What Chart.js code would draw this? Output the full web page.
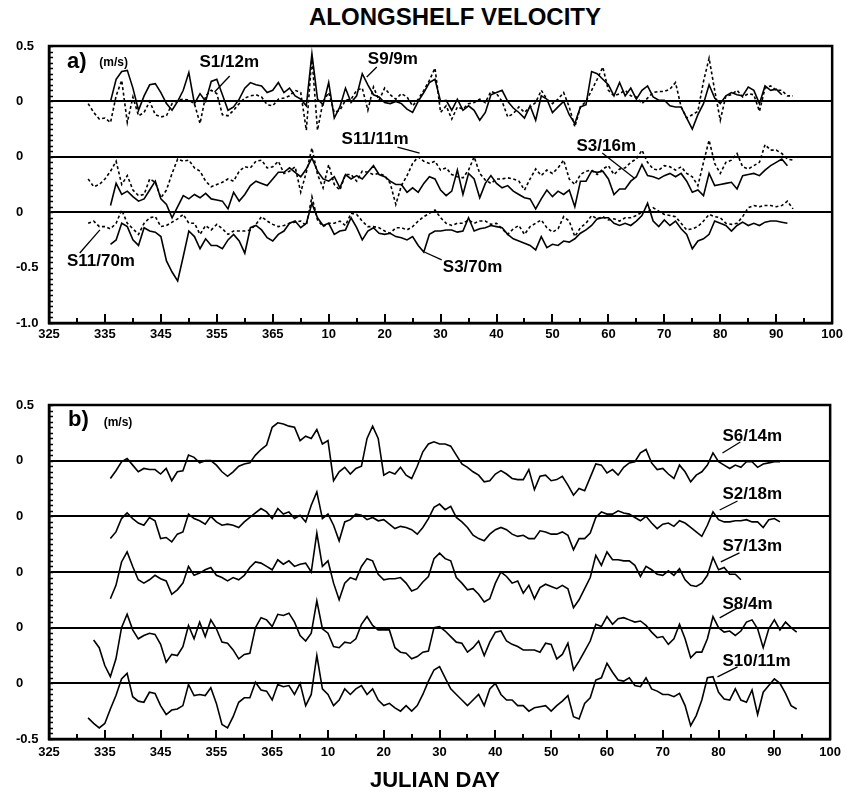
<!DOCTYPE html>
<html>
<head>
<meta charset="utf-8">
<script src="https://cdn.jsdelivr.net/npm/chart.js@4/dist/chart.umd.min.js"></script>
<style>
  html, body { margin: 0; padding: 0; background: #fff; }
  #wrap { position: relative; width: 847px; height: 799px; font-family: "Liberation Sans", Arial, sans-serif; }
  canvas { position: absolute; left: 0; }
  .t { position: absolute; font-weight: bold; line-height: 24px; white-space: nowrap; transform: translateX(-50%); color: #000; }
</style>
</head>
<body>
<div id="wrap">
  <div class="t" style="left:455px; top:5px; font-size:24px;">ALONGSHELF VELOCITY</div>
  <canvas id="ca" width="847" height="360" style="top:0"></canvas>
  <canvas id="cb" width="847" height="439" style="top:360px"></canvas>
  <div class="t" style="left:435px; top:768px; font-size:22px;">JULIAN DAY</div>
</div>
<script>
// Day axis: days of the first year run to 365, then continue as 375 = day 10 of the next year
const DAY_TICKS  = [325, 335, 345, 355, 365, 375, 385, 395, 405, 415, 425, 435, 445, 455, 465];
const DAY_LABELS = ['325', '335', '345', '355', '365', '10', '20', '30', '40', '50', '60', '70', '80', '90', '100'];

// Stacked velocity axes (each record is shifted down by 0.5 m/s)
const A_TICKS  = [0.5, 0, -0.5, -1.0, -1.5, -2.0];
const A_LABELS = ['0.5', '0', '0', '0', '-0.5', '-1.0'];
const B_TICKS  = [0.5, 0, -0.5, -1.0, -1.5, -2.0, -2.5];
const B_LABELS = ['0.5', '0', '0', '0', '0', '0', '-0.5'];

// Panel a: daily alongshelf velocity (m/s), first value at the *_START day
const S1_12M_START = 336;
const S1_12M = [0.0, 0.2, 0.27, 0.28, 0.12, -0.08, 0.05, 0.15, 0.16, 0.08, -0.02, -0.08, 0.0, 0.1, 0.26, -0.02, 0.07, 0.0, 0.18, 0.2, 0.06,
  -0.08, -0.05, 0.02, 0.12, 0.17, 0.15, 0.14, 0.08, 0.1, 0.17, 0.08, 0.12, 0.05, 0.02, -0.04, 0.43, 0.02, -0.03, 0.17, -0.15, -0.05, 0.12, -0.01, 0.05, 0.25, 0.15, 0.06, 0.04, -0.01, -0.02, 0.0, -0.02, -0.07, -0.1, 0.0, 0.08, 0.17, 0.2,
  0.0, 0.01, -0.08, 0.02, -0.08, -0.04, -0.08, -0.17, -0.1, 0.06, 0.08, 0.1, 0.0, -0.06, -0.1, -0.15, -0.04, -0.17, 0.05, 0.02, -0.1, -0.05, 0.0, -0.12, -0.2, -0.05, -0.03, 0.27, 0.25, 0.2, 0.15, 0.05, 0.17, 0.05, 0.12, 0.02, 0.1, 0.14,
  0.04, 0.01, 0.01, -0.04, -0.05, -0.05, -0.15, -0.25, -0.12, -0.02, 0.15, 0.03, -0.02, 0.05, 0.08, 0.06, 0.05, 0.13, 0.1, -0.02, 0.14, 0.1, 0.11, 0.06];

const S9_9M_START = 332;
const S9_9M = [-0.02, -0.1, -0.16, -0.15, -0.19, 0.05, 0.19, -0.19, 0.04, -0.13, -0.1, 0.0, -0.12, -0.14, -0.13, -0.02, 0.01, 0.02, 0.01, -0.02, -0.2, 0.05, 0.1, 0.07, -0.12,
  -0.13, -0.08, -0.02, 0.03, 0.05, 0.06, 0.04, -0.03, -0.04, 0.02, 0.03, 0.05, 0.1, 0.08, -0.26, 0.4, -0.26, 0.0, 0.08, -0.1, -0.08, 0.01, 0.02, 0.1, 0.12, -0.08, 0.13, 0.01, 0.12, 0.06, 0.02, 0.07, 0.04, -0.04, 0.02, 0.1, 0.19, 0.3,
  -0.1, -0.04, -0.16, -0.05, -0.07, -0.02, -0.01, 0.02, -0.01, 0.09, 0.07, 0.0, -0.14, -0.11, -0.05, -0.1, -0.05, -0.01, 0.1, 0.02, -0.02, 0.02, 0.08, -0.05, -0.23, -0.05, 0.0, 0.1, 0.2, 0.31, 0.1, 0.05, 0.07, 0.1, 0.05, 0.04, -0.02, 0.03,
  0.08, 0.09, 0.09, 0.11, 0.17, -0.05, -0.15, -0.12, -0.09, 0.18, 0.39, 0.1, -0.17, 0.05, 0.06, 0.1, 0.04, 0.07, 0.06, -0.09, 0.12, 0.14, 0.1, 0.1, 0.05, 0.05];

const S11_11M_START = 332;
const S11_11M = [-0.2, -0.27, -0.25, -0.2, -0.13, -0.04, -0.25, -0.17, -0.3, -0.35, -0.34, -0.2, -0.23, -0.37, -0.3, -0.15, -0.02, -0.04, -0.03, -0.1, -0.13, -0.22, -0.27, -0.25, -0.23,
  -0.2, -0.22, -0.13, -0.09, -0.1, -0.04, -0.03, -0.1, -0.09, -0.04, -0.15, -0.13, -0.09, -0.32, -0.14, 0.08, -0.16, -0.28, -0.07, -0.25, -0.3, -0.16, -0.16, -0.22, -0.13, -0.14, -0.16, -0.15, -0.17, -0.24, -0.43, -0.26, -0.17, -0.06, 0.0, -0.04, -0.06, -0.04,
  -0.12, -0.1, -0.16, -0.18, -0.19, -0.12, 0.0, -0.15, -0.21, -0.24, -0.2, -0.2, -0.19, -0.2, -0.22, -0.3, -0.2, -0.11, -0.17, -0.12, -0.15, -0.1, -0.03, -0.2, -0.25, -0.16, -0.13, -0.12, -0.16, -0.11, -0.08, -0.16, -0.11, -0.1, -0.05, -0.02, 0.06, -0.05,
  -0.11, -0.12, -0.08, -0.09, -0.12, -0.09, -0.15, -0.18, -0.26, -0.05, 0.15, -0.06, -0.15, -0.05, -0.03, 0.03, -0.09, -0.11, -0.08, -0.05, 0.11, 0.06, 0.06, 0.03, -0.02, -0.03];

const S3_16M_START = 336;
const S3_16M = [-0.44, -0.24, -0.34, -0.31, -0.36, -0.4, -0.38, -0.3, -0.22, -0.38, -0.43, -0.55, -0.45, -0.35, -0.38, -0.34, -0.37, -0.33, -0.38, -0.39, -0.4, -0.47,
  -0.32, -0.4, -0.34, -0.26, -0.22, -0.24, -0.26, -0.2, -0.14, -0.14, -0.1, -0.14, -0.18, -0.11, -0.01, -0.13, -0.2, -0.22, -0.18, -0.28, -0.16, -0.2, -0.17, -0.2, -0.14, -0.08, -0.16, -0.18, -0.22, -0.25, -0.25, -0.32, -0.28, -0.32, -0.24, -0.18, -0.2,
  -0.3, -0.35, -0.31, -0.12, -0.34, -0.15, -0.2, -0.37, -0.24, -0.17, -0.24, -0.28, -0.26, -0.31, -0.34, -0.37, -0.38, -0.47, -0.38, -0.3, -0.36, -0.31, -0.34, -0.3, -0.45, -0.22, -0.22, -0.13, -0.14, -0.13, -0.2, -0.34, -0.29, -0.29, -0.22, -0.18,
  -0.07, -0.17, -0.18, -0.2, -0.17, -0.15, -0.18, -0.15, -0.22, -0.32, -0.3, -0.35, -0.15, -0.26, -0.25, -0.24, -0.23, -0.29, -0.17, -0.16, -0.15, -0.17, -0.12, -0.08, -0.05, -0.02, -0.08];

const S11_70M_START = 332;
const S11_70M = [-0.1, -0.08, -0.13, -0.13, -0.15, -0.1, 0.02, -0.1, -0.15, -0.2, -0.1, -0.05, -0.04, -0.13, -0.12, -0.09, -0.06, -0.02, -0.1, -0.1, -0.2, -0.12, -0.16, -0.11, -0.15,
  -0.2, -0.17, -0.17, -0.17, -0.16, -0.11, -0.04, -0.08, -0.11, -0.13, -0.12, -0.1, -0.09, -0.08, -0.12, 0.14, -0.07, -0.13, -0.1, -0.1, -0.08, -0.12, -0.01, -0.02, -0.08, -0.13, -0.13, -0.14, -0.17, -0.19, -0.14, -0.14, -0.16, -0.13, -0.08, -0.04, -0.01, 0.02,
  -0.05, -0.1, -0.12, -0.1, -0.1, -0.07, -0.1, -0.08, -0.08, -0.11, -0.1, -0.15, -0.2, -0.15, -0.12, -0.2, -0.13, -0.1, -0.07, -0.14, -0.18, -0.15, -0.04, -0.08, -0.22, -0.14, -0.1, -0.03, -0.06, -0.04, -0.07, -0.06, -0.08, -0.05, -0.05, -0.03, 0.0, 0.0,
  0.04, 0.01, -0.02, -0.03, -0.04, -0.1, -0.16, -0.15, -0.13, -0.08, -0.02, -0.04, -0.05, -0.1, -0.11, -0.1, -0.04, 0.04, 0.06, 0.05, 0.06, 0.06, 0.05, 0.06, 0.1, 0.03];

const S3_70M_START = 336;
const S3_70M = [-0.29, -0.25, -0.1, -0.13, -0.25, -0.3, -0.14, -0.17, -0.18, -0.22, -0.44, -0.54, -0.62, -0.4, -0.17, -0.22, -0.33, -0.24, -0.3, -0.3, -0.33, -0.25,
  -0.2, -0.26, -0.37, -0.14, -0.12, -0.16, -0.23, -0.26, -0.2, -0.17, -0.1, -0.08, -0.14, -0.1, 0.08, -0.05, -0.12, -0.1, -0.2, -0.17, -0.16, -0.05, -0.14, -0.25, -0.17, -0.14, -0.19, -0.2, -0.19, -0.22, -0.23, -0.25, -0.22, -0.3, -0.36, -0.2, -0.17,
  -0.17, -0.16, -0.16, -0.18, -0.17, -0.05, -0.17, -0.15, -0.14, -0.12, -0.13, -0.14, -0.2, -0.24, -0.26, -0.28, -0.3, -0.34, -0.22, -0.32, -0.29, -0.3, -0.26, -0.27, -0.24, -0.19, -0.16, -0.12, -0.06, -0.05, -0.05, -0.1, -0.12, -0.1, -0.12, -0.08, -0.03, 0.08,
  -0.08, -0.13, -0.07, -0.12, -0.08, -0.15, -0.2, -0.33, -0.26, -0.24, -0.2, -0.08, -0.1, -0.12, -0.17, -0.12, -0.09, -0.12, -0.1, -0.12, -0.09, -0.08, -0.08, -0.09, -0.1];

// Panel b: daily alongshelf velocity (m/s)
const S6_14M_START = 336;
const S6_14M = [-0.16, -0.09, -0.01, 0.02, -0.04, -0.1, -0.07, -0.08, -0.08, -0.12, -0.07, -0.18, -0.1, -0.09, 0.05, 0.03, -0.02, 0.0, 0.0, -0.04, -0.1, -0.14,
  -0.1, -0.05, -0.03, -0.02, 0.05, 0.1, 0.14, 0.3, 0.34, 0.33, 0.31, 0.3, 0.18, 0.22, 0.2, 0.28, 0.15, 0.18, -0.18, -0.1, -0.06, -0.12, -0.07, -0.05, 0.2, 0.31, 0.2, -0.13, -0.1, -0.12, -0.06, -0.13, -0.16, -0.05, 0.08, 0.15, 0.17, 0.15,
  0.15, 0.13, 0.05, -0.03, -0.06, -0.1, -0.13, -0.19, -0.18, -0.12, -0.09, -0.12, -0.16, -0.17, -0.17, -0.08, -0.26, -0.14, -0.13, -0.18, -0.17, -0.14, -0.22, -0.31, -0.25, -0.27, -0.15, -0.03, -0.04, -0.11, -0.08, -0.13, -0.06, -0.02, -0.01, 0.07, 0.1,
  -0.02, -0.08, -0.07, -0.12, -0.16, -0.04, -0.1, -0.19, -0.13, -0.1, -0.04, 0.07, -0.01, -0.04, -0.07, -0.04, -0.06, -0.01, -0.01, -0.06, -0.03, -0.02, -0.01, -0.01];

const S2_18M_START = 336;
const S2_18M = [-0.2, -0.14, -0.02, 0.03, -0.02, -0.06, -0.08, -0.01, -0.04, -0.2, -0.19, -0.23, -0.16, -0.14, 0.02, -0.02, -0.04, -0.07, 0.0, -0.05, -0.08, -0.07,
  -0.08, -0.1, -0.05, -0.01, 0.03, 0.07, 0.04, -0.02, 0.07, 0.02, 0.04, -0.02, 0.01, -0.05, 0.1, 0.22, -0.02, 0.02, -0.08, -0.22, -0.05, -0.03, 0.02, 0.01, -0.03, -0.01, -0.04, -0.03, -0.07, -0.11, -0.09, -0.1, -0.12, -0.16, -0.1, -0.02, 0.08,
  0.11, 0.06, 0.09, -0.01, -0.05, -0.1, -0.17, -0.2, -0.22, -0.16, -0.12, -0.1, -0.12, -0.16, -0.18, -0.17, -0.2, -0.2, -0.13, -0.14, -0.16, -0.16, -0.14, -0.17, -0.3, -0.2, -0.2, -0.15, -0.01, 0.04, 0.02, 0.02, 0.05, 0.03, 0.02, -0.01, -0.04, 0.0,
  -0.06, -0.11, -0.07, -0.06, -0.09, -0.04, -0.06, -0.1, -0.14, -0.18, -0.08, 0.04, -0.03, -0.05, -0.05, -0.04, -0.04, -0.03, -0.05, -0.05, -0.1, -0.03, -0.02, -0.05];

const S7_13M_START = 336;
const S7_13M = [-0.24, -0.12, 0.09, 0.18, 0.05, -0.07, -0.1, -0.07, -0.03, -0.06, -0.08, -0.2, -0.16, -0.1, 0.05, -0.03, -0.01, 0.02, 0.04, -0.03, -0.05, -0.08,
  -0.05, -0.07, -0.03, 0.04, 0.09, 0.08, 0.05, 0.02, 0.11, 0.07, 0.1, 0.05, 0.07, 0.08, 0.0, 0.35, 0.05, 0.1, -0.1, -0.25, -0.1, -0.05, -0.07, 0.05, 0.12, 0.1, -0.02, -0.07, -0.06, -0.06, -0.05, -0.1, -0.17, -0.15, -0.09, -0.04, 0.12,
  0.17, 0.12, 0.1, -0.05, -0.1, -0.16, -0.15, -0.2, -0.27, -0.24, -0.1, 0.0, -0.04, -0.1, -0.08, -0.19, -0.12, -0.24, -0.14, -0.11, -0.13, -0.15, -0.12, -0.15, -0.32, -0.25, -0.15, -0.05, 0.15, 0.06, 0.18, 0.11, 0.11, 0.1, 0.1, 0.06, -0.04, 0.05,
  0.02, -0.02, -0.03, 0.01, -0.03, 0.03, -0.07, -0.12, -0.13, -0.1, -0.03, 0.13, 0.02, 0.04, -0.02, -0.02, -0.07];

const S8_4M_START = 333;
const S8_4M = [-0.11, -0.18, -0.34, -0.44, -0.28, 0.0, 0.12, -0.02, -0.1, -0.07, -0.05, -0.06, -0.15, -0.31, -0.24, -0.25, -0.17, 0.02, -0.1, 0.05, -0.08, 0.07, -0.01, -0.13, -0.14, -0.2, -0.28, -0.24, -0.23, 0.0, 0.09, 0.07, 0.01, 0.12, 0.11, 0.13, 0.05,
  -0.07, -0.12, -0.05, 0.24, -0.01, -0.05, -0.17, -0.18, -0.13, -0.14, -0.1, 0.03, 0.1, 0.02, -0.02, -0.02, -0.02, -0.18, -0.22, -0.23, -0.28, -0.26, -0.22, -0.21, 0.0,
  0.01, -0.03, -0.08, -0.13, -0.14, -0.22, -0.18, -0.12, -0.25, -0.13, -0.04, -0.03, -0.12, -0.15, -0.17, -0.2, -0.2, -0.2, -0.22, -0.14, -0.15, -0.28, -0.24, -0.14, -0.38, -0.3, -0.21, -0.12, 0.03, 0.01, 0.1, 0.03, 0.08, 0.09, 0.07, 0.05, 0.06, 0.02,
  -0.04, -0.09, -0.08, -0.15, -0.1, 0.03, -0.1, -0.27, -0.22, -0.22, -0.1, 0.1, 0.0, -0.04, -0.03, -0.07, -0.03, 0.05, 0.07, -0.01, -0.18, -0.01, 0.07, -0.02, 0.05, 0.0, -0.04];

const S10_11M_START = 332;
const S10_11M = [-0.31, -0.36, -0.4, -0.36, -0.23, -0.11, 0.04, 0.09, -0.12, -0.16, -0.17, -0.08, -0.09, -0.2, -0.28, -0.24, -0.23, -0.2, -0.01, -0.11, -0.1, -0.11, -0.04, -0.18, -0.37, -0.4, -0.3, -0.17, -0.13, -0.13, 0.01, -0.06, -0.07, -0.15, -0.01, -0.03, -0.02, -0.1,
  0.0, -0.2, -0.1, 0.25, -0.05, -0.1, -0.2, -0.15, -0.05, -0.1, -0.05, -0.02, -0.1, -0.05, -0.15, -0.2, -0.18, -0.22, -0.25, -0.2, -0.25, -0.2, -0.1, 0.02, 0.12, 0.15, 0.05, -0.05, -0.1, -0.15, -0.2, -0.15, -0.1, -0.2, -0.05, 0.0, -0.1, -0.15, -0.15, -0.2, -0.2, -0.25, -0.22,
  -0.21, -0.2, -0.25, -0.2, -0.16, -0.11, -0.3, -0.32, -0.18, -0.13, 0.03, 0.05, 0.18, 0.1, 0.03, 0.02, 0.05, -0.02, -0.03, 0.05, -0.05, -0.07, -0.1, -0.1, -0.12, -0.09, -0.2, -0.38, -0.29, -0.15, 0.05, 0.06, -0.08, -0.14, -0.15, -0.05, -0.15, -0.17, -0.06, -0.28, -0.08, -0.02, 0.04, 0.0, -0.09, -0.2, -0.23];

// Name tags with leader lines, placed in axis units (day, stacked m/s)
const A_TAGS = [
  { text: 'a)', size: 22, day: 328.2, v: 0.36 },
  { text: '(m/s)', size: 12, day: 334.0, v: 0.35 },
  { text: 'S1/12m', size: 17, day: 351.9, v: 0.356, line: [357.3, 0.229, 354.6, 0.085] },
  { text: 'S9/9m', size: 17, day: 382.0, v: 0.383, line: [383.6, 0.31, 381.8, 0.22] },
  { text: 'S11/11m', size: 17, day: 377.3, v: -0.339, line: [387.3, -0.412, 391.25, -0.466] },
  { text: 'S3/16m', size: 17, day: 419.3, v: -0.403, line: [423.9, -0.466, 429.6, -0.691] },
  { text: 'S3/70m', size: 17, day: 395.4, v: -1.495, line: [395.2, -1.431, 392.1, -1.359] },
  { text: 'S11/70m', size: 17, day: 328.2, v: -1.44, line: [330.5, -1.368, 334.1, -1.16] }
];
const B_TAGS = [
  { text: 'b)', size: 22, day: 328.4, v: 0.365 },
  { text: '(m/s)', size: 12, day: 334.8, v: 0.338 },
  { text: 'S6/14m', size: 17, day: 445.7, v: 0.222, line: [445.7, 0.069, 448.9, 0.168] },
  { text: 'S2/18m', size: 17, day: 445.7, v: -0.299, line: [445.2, -0.443, 448.4, -0.362] },
  { text: 'S7/13m', size: 17, day: 445.7, v: -0.766, line: [445.4, -0.909, 448.75, -0.828] },
  { text: 'S8/4m', size: 17, day: 445.7, v: -1.286, line: [445.2, -1.412, 448.4, -1.322] },
  { text: 'S10/11m', size: 17, day: 445.7, v: -1.798, line: [444.8, -1.942, 448.4, -1.852] }
];

const FONT = '"Liberation Sans", Arial, Helvetica, sans-serif';
Chart.defaults.font.family = FONT;
Chart.defaults.color = '#000';

function record(start, values, offset, dashed) {
  return {
    data: values.map((v, i) => ({ x: start + i, y: offset + v })),
    borderColor: '#000',
    borderWidth: 1.6,
    borderDash: dashed ? [3, 2.5] : [],
    pointRadius: 0,
    tension: 0,
    fill: false
  };
}

const near = (a, b) => Math.abs(a - b) < 1e-6;

// inward tick marks and a closed frame around the plotting area
const frameTicks = {
  id: 'frameTicks',
  afterDraw(chart) {
    const { ctx, chartArea: a, scales: { x, y } } = chart;
    ctx.save();
    ctx.strokeStyle = '#000';
    ctx.lineWidth = 2;
    x.ticks.forEach(t => {
      const px = Math.round(x.getPixelForValue(t.value));
      const major = DAY_TICKS.some(d => near(d, t.value));
      ctx.beginPath();
      ctx.moveTo(px, a.bottom);
      ctx.lineTo(px, a.bottom - (major ? 9 : 5));
      ctx.stroke();
    });
    ctx.lineWidth = 1.5;
    y.ticks.forEach(t => {
      const py = Math.round(y.getPixelForValue(t.value)) + 0.5;
      ctx.beginPath();
      ctx.moveTo(a.left, py);
      ctx.lineTo(a.left + 4, py);
      ctx.stroke();
    });
    ctx.lineWidth = 2.5;
    ctx.strokeRect(a.left, a.top, a.right - a.left, a.bottom - a.top);
    ctx.restore();
  }
};

const nameTags = {
  id: 'nameTags',
  afterDraw(chart, args, opts) {
    const { ctx, scales: { x, y } } = chart;
    ctx.save();
    ctx.fillStyle = '#000';
    ctx.strokeStyle = '#000';
    ctx.lineWidth = 1.3;
    ctx.textAlign = 'left';
    ctx.textBaseline = 'middle';
    (opts.items || []).forEach(it => {
      ctx.font = 'bold ' + it.size + 'px ' + FONT;
      ctx.fillText(it.text, x.getPixelForValue(it.day), y.getPixelForValue(it.v));
      if (it.line) {
        ctx.beginPath();
        ctx.moveTo(x.getPixelForValue(it.line[0]), y.getPixelForValue(it.line[1]));
        ctx.lineTo(x.getPixelForValue(it.line[2]), y.getPixelForValue(it.line[3]));
        ctx.stroke();
      }
    });
    ctx.restore();
  }
};

function buildChart(canvasId, datasets, yTicks, yLabels, pad, xHeight, xPad, tags) {
  const yMin = Math.min(...yTicks), yMax = Math.max(...yTicks);
  const zeroValues = yTicks.filter((v, i) => yLabels[i] === '0');
  return new Chart(document.getElementById(canvasId), {
    type: 'line',
    data: { datasets },
    plugins: [frameTicks, nameTags],
    options: {
      responsive: false,
      devicePixelRatio: 1,
      animation: false,
      events: [],
      layout: { padding: pad },
      plugins: { legend: { display: false }, tooltip: { enabled: false }, nameTags: { items: tags } },
      scales: {
        x: {
          type: 'linear',
          min: DAY_TICKS[0],
          max: DAY_TICKS[DAY_TICKS.length - 1],
          afterBuildTicks: s => {
            const t = [];
            for (let d = DAY_TICKS[0]; d <= DAY_TICKS[DAY_TICKS.length - 1]; d += 5) t.push({ value: d });
            s.ticks = t;
          },
          afterFit: s => { s.height = xHeight; },
          ticks: {
            autoSkip: false,
            maxRotation: 0,
            padding: xPad,
            font: { size: 13, weight: 'bold' },
            callback: v => {
              const i = DAY_TICKS.findIndex(d => near(d, v));
              return i >= 0 ? DAY_LABELS[i] : '';
            }
          },
          grid: { drawOnChartArea: false, drawTicks: false },
          border: { display: true, color: '#000', width: 2.5 }
        },
        y: {
          type: 'linear',
          min: yMin,
          max: yMax,
          afterBuildTicks: s => {
            const t = [];
            for (let k = 0; ; k++) {
              const v = Math.round((yMin + 0.05 * k) * 100) / 100;
              if (v > yMax + 1e-9) break;
              t.push({ value: v });
            }
            s.ticks = t;
          },
          afterFit: s => { s.width = 33; },
          ticks: {
            autoSkip: false,
            crossAlign: 'far',
            padding: 0,
            font: { size: 13, weight: 'bold' },
            callback: v => {
              const i = yTicks.findIndex(d => near(d, v));
              return i >= 0 ? yLabels[i] : '';
            }
          },
          grid: {
            drawTicks: false,
            lineWidth: 2,
            color: c => (c.tick && zeroValues.some(z => near(z, c.tick.value))) ? '#000' : 'rgba(0,0,0,0)'
          },
          border: { display: true, color: '#000', width: 2.5 }
        }
      }
    }
  });
}

buildChart('ca', [
  record(S1_12M_START, S1_12M, 0, false),
  record(S9_9M_START, S9_9M, 0, true),
  record(S11_11M_START, S11_11M, -0.5, true),
  record(S3_16M_START, S3_16M, -0.5, false),
  record(S11_70M_START, S11_70M, -1.0, true),
  record(S3_70M_START, S3_70M, -1.0, false)
], A_TICKS, A_LABELS, { left: 16, right: 14, top: 46, bottom: 0 }, 37, 4, A_TAGS);

buildChart('cb', [
  record(S6_14M_START, S6_14M, 0, false),
  record(S2_18M_START, S2_18M, -0.5, false),
  record(S7_13M_START, S7_13M, -1.0, false),
  record(S8_4M_START, S8_4M, -1.5, false),
  record(S10_11M_START, S10_11M, -2.0, false)
], B_TICKS, B_LABELS, { left: 16, right: 14, top: 45, bottom: 0 }, 60, 6, B_TAGS);
</script>
</body>
</html>
